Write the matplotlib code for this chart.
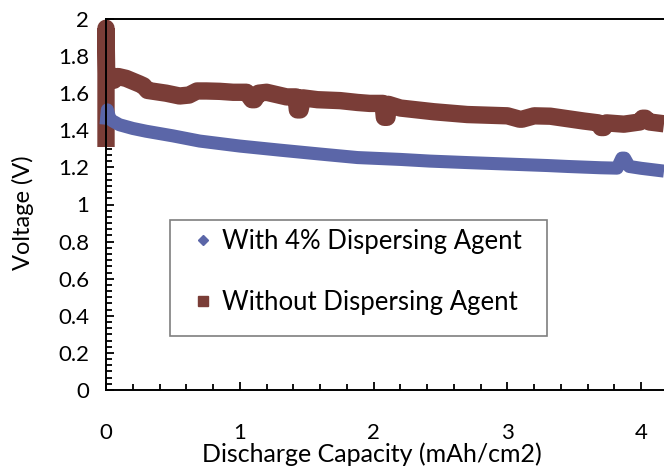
import matplotlib
matplotlib.use("Agg")
import matplotlib.pyplot as plt
from matplotlib.lines import Line2D
from matplotlib.patches import Rectangle
from matplotlib.ticker import MultipleLocator

plt.rcParams['font.family'] = ['Lato', 'DejaVu Sans']

# Discharge curves: capacity (mAh/cm2) vs voltage (V)
cap_with = [0.0, 0.01, 0.03, 0.05, 0.1, 0.2, 0.3, 0.5, 0.7, 1.0, 1.3, 1.6,
            1.88, 2.2, 2.42, 2.7, 3.0, 3.3, 3.45, 3.7, 3.82, 3.855, 3.875,
            3.91, 4.0, 4.17]
volt_with = [1.43, 1.51, 1.46, 1.45, 1.43, 1.41, 1.395, 1.37, 1.342, 1.315,
             1.293, 1.272, 1.253, 1.243, 1.234, 1.226, 1.218, 1.21, 1.205,
             1.198, 1.196, 1.25, 1.25, 1.205, 1.195, 1.18]

cap_without = [0.0, 0.0, 0.005, 0.03, 0.06, 0.09, 0.15, 0.2, 0.25, 0.28,
               0.31, 0.45, 0.55, 0.62, 0.68, 0.75, 0.85, 0.95, 1.05, 1.09,
               1.11, 1.14, 1.2, 1.35, 1.42, 1.43, 1.45, 1.47, 1.58, 1.75,
               1.88, 1.97, 2.07, 2.08, 2.10, 2.11, 2.2, 2.45, 2.7, 3.0, 3.09,
               3.11, 3.2, 3.32, 3.57, 3.68, 3.70, 3.72, 3.74, 3.87, 3.99,
               4.01, 4.03, 4.06, 4.17]
volt_without = [1.31, 1.95, 1.71, 1.70, 1.67, 1.69, 1.68, 1.665, 1.65,
                1.64, 1.615, 1.60, 1.585, 1.59, 1.612, 1.612, 1.61, 1.605,
                1.605, 1.565, 1.565, 1.60, 1.605, 1.58, 1.58, 1.51, 1.51,
                1.575, 1.565, 1.56, 1.55, 1.545, 1.545, 1.47, 1.47, 1.54,
                1.52, 1.50, 1.485, 1.478, 1.46, 1.46, 1.478, 1.476, 1.45,
                1.44, 1.415, 1.415, 1.44, 1.433, 1.445, 1.465, 1.465, 1.445,
                1.435]

label_with = "With 4% Dispersing Agent"
label_without = "Without Dispersing Agent"
x_label = "Discharge Capacity (mAh/cm2)"
y_label = "Voltage (V)"

blue = "#5b66a8"
red = "#7a3d37"

fig = plt.figure(figsize=(6.64, 4.68), dpi=100)
W, H = 664, 468
left, right, top, bottom = 106, 664, 19, 390
ax = fig.add_axes([left / W, 1 - bottom / H, (right - left) / W, (bottom - top) / H])

ax.plot(cap_with, volt_with, color=blue, lw=9.4, solid_capstyle='butt',
        solid_joinstyle='round', zorder=3, clip_on=False)
ax.plot(cap_without, volt_without, color=red, lw=12.5, solid_capstyle='butt',
        solid_joinstyle='round', zorder=2, clip_on=False)

ax.set_xlim(0, 4.17)
ax.set_ylim(0, 2.0)
ax.xaxis.set_major_locator(MultipleLocator(1))
ax.xaxis.set_minor_locator(MultipleLocator(0.2))
ax.yaxis.set_major_locator(MultipleLocator(0.2))
ax.yaxis.set_minor_locator(MultipleLocator(0.2 / 6))
ax.yaxis.set_major_formatter(plt.FuncFormatter(lambda v, p: f"{v:g}"))

ax.tick_params(which='both', direction='in', color='black', width=1.3,
               labelsize=16)
ax.tick_params(which='major', length=6)
ax.tick_params(which='minor', length=4)
ax.tick_params(axis='x', pad=24)
ax.tick_params(axis='y', pad=12)
ax.spines['right'].set_visible(False)
for s in ('left', 'bottom', 'top'):
    ax.spines[s].set_linewidth(1.4)
    ax.spines[s].set_zorder(4)

ax.set_xlabel(x_label, fontsize=18, va='bottom')
ax.xaxis.set_label_coords((372 - left) / (right - left), (bottom - 466) / (bottom - top))

ax.set_ylabel(y_label, fontsize=17)
ax.yaxis.set_label_coords((34 - left) / (right - left), (bottom - 213) / (bottom - top))

# legend frame drawn as its own box, entries placed inside it
fig.patches.append(Rectangle((170 / W, 1 - 336 / H), (547 - 170) / W, (336 - 220) / H,
                             transform=fig.transFigure, facecolor='white',
                             edgecolor='#7f7f7f', linewidth=1.2, zorder=4))
handles = [
    Line2D([], [], ls='none', marker='D', ms=5, color=blue),
    Line2D([], [], ls='none', marker='s', ms=7, color=red),
]
leg = fig.legend(handles, [label_with, label_without], loc='upper left',
                 bbox_to_anchor=(190 / W, 1 - 229 / H), bbox_transform=fig.transFigure,
                 fontsize=18.5, frameon=False, borderpad=0, labelspacing=1.4,
                 handletextpad=0.25, handlelength=1.0, borderaxespad=0)
leg.set_zorder(5)

fig.savefig("out.png", dpi=100)
